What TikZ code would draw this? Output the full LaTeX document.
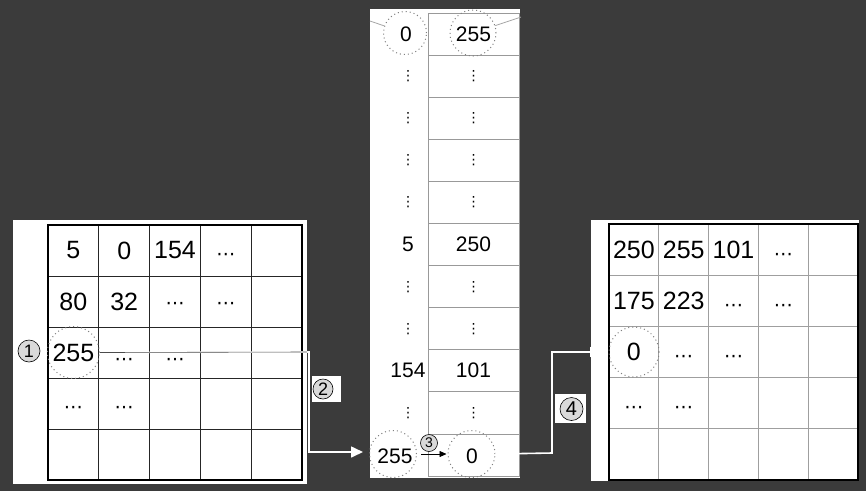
\documentclass[tikz,border=0pt]{standalone}
\usepackage{fontspec}
\setmainfont{Liberation Sans}
\newfontfamily\dvfont{DejaVu Sans}
\usetikzlibrary{arrows.meta}
\definecolor{bg}{RGB}{59,59,59}
\definecolor{numfill}{RGB}{217,217,217}
\tikzset{
 big/.style={font=\fontsize{25}{25}\selectfont, inner sep=0pt},
 mid/.style={font=\fontsize{21}{21}\selectfont, inner sep=0pt},
 hd/.style={font=\dvfont\fontsize{19}{19}\selectfont, inner sep=0pt, yshift=-5pt},
 vd/.style={font=\dvfont\fontsize{14}{14}\selectfont, inner sep=0pt},
 dcirc/.style={circle, draw=gray, line width=1pt, dash pattern=on 1pt off 3pt, inner sep=0pt},
 numc/.style={circle, draw=black, fill=numfill, line width=0.6pt, minimum size=20pt, inner sep=0pt, font=\fontsize{18}{18}\selectfont},
 conn/.style={draw=white, line width=1.6pt},
 ginl/.style={draw=black!85, line width=0.9pt},
 ginr/.style={draw=gray!75, line width=1.2pt},
 gout/.style={draw=black, line width=1.2pt},
 gmid/.style={draw=gray!80, line width=0.9pt},
 labbox/.style={fill=white, inner sep=0pt},
}
\begin{document}
\begin{tikzpicture}[x=1pt,y=-1pt]
\fill[bg] (0,0) rectangle (866,491);
\useasboundingbox (0,0) rectangle (866,491);
% panels
\fill[white] (13,220) rectangle (307,484);
\fill[white] (370,9) rectangle (520,478);
\fill[white] (591,220) rectangle (859,481);
% left grid
\foreach \i in {1,...,4} {
  \draw[ginl] ({48+50.8*\i},225) -- ({48+50.8*\i},480);
  \draw[ginl] (48,{225+51*\i}) -- (302,{225+51*\i});
}
\draw[gout] (48,225) rectangle (302,480);
% right grid
\foreach \i in {1,...,4} {
  \draw[ginr] ({609+49.8*\i},224) -- ({609+49.8*\i},480);
  \draw[ginr] (609,{224+51.2*\i}) -- (858,{224+51.2*\i});
}
\draw[gout] (609,224) rectangle (858,480);
% middle table
\foreach \i in {1,...,10} {
  \draw[gmid] (428,{13+42.1*\i}) -- (519,{13+42.1*\i});
}
\draw[gmid] (428,13) rectangle (519,476);

% left values
\node[big] (l11) at (73.4,250.5) {5};
\node[big] (l12) at (124.2,250.5) {0};
\node[big] (l13) at (175,250.5) {154};
\node[hd] (l14) at (225.8,252) {⋯};
\node[big] (l21) at (73.4,301.5) {80};
\node[big] (l22) at (124.2,301.5) {32};
\node[hd] (l23) at (175,301) {⋯};
\node[hd] (l24) at (225.8,301) {⋯};
\node[big] (l31) at (73.4,352.5) {255};
\node[hd] (l32) at (124.2,357) {⋯};
\node[hd] (l33) at (175,357) {⋯};
\node[hd] (l41) at (73.4,405) {⋯};
\node[hd] (l42) at (124.2,405) {⋯};

% right values
\node[big] (r11) at (633.9,249.6) {250};
\node[big] (r12) at (683.7,249.6) {255};
\node[big] (r13) at (733.5,249.6) {101};
\node[hd] (r14) at (783.3,252) {⋯};
\node[big] (r21) at (633.9,300.8) {175};
\node[big] (r22) at (683.7,300.8) {223};
\node[hd] (r23) at (733.5,303) {⋯};
\node[hd] (r24) at (783.3,303) {⋯};
\node[big] (r31) at (633.9,352) {0};
\node[hd] (r32) at (683.7,354) {⋯};
\node[hd] (r33) at (733.5,354) {⋯};
\node[hd] (r41) at (633.9,405) {⋯};
\node[hd] (r42) at (683.7,405) {⋯};

% middle values
\node[mid] (m0a) at (406,34) {0};
\node[mid] (m0b) at (473.5,34) {255};
\foreach \k in {1,2,3,4,6,7,9} {
  \node[vd] (ma\k) at (408,{13+42.1*(\k+0.5)}) {⋮};
  \node[vd] (mb\k) at (473.5,{13+42.1*(\k+0.5)}) {⋮};
}
\node[mid] (m5a) at (408,244) {5};
\node[mid] (m5b) at (473.5,244) {250};
\node[mid] (m8a) at (408,370) {154};
\node[mid] (m8b) at (473.5,370) {101};
\node[mid] (m10a) at (395,456) {255};
\node[mid] (m10b) at (472,456) {0};

% dotted circles
\node[dcirc, minimum size=52pt] (lc) at (73.4,352.5) {};
\node[dcirc, minimum size=50pt] (rc) at (634,352) {};
\node[dcirc, minimum size=43pt] (mt0) at (405,33) {};
\node[dcirc, minimum size=46pt] (mt1) at (473,33) {};
\node[dcirc, minimum size=47pt] (mbl) at (393,454) {};
\node[dcirc, minimum size=47pt] (mbr) at (471.5,454) {};
\coordinate (tl) at (370,21);
\coordinate (tr) at (521,17);
\draw[gray!70, line width=0.8pt] (mt0) -- (tl);
\draw[gray!70, line width=0.8pt] (mt1) -- (tr);

% step 3 arrow
\draw[line width=0.6pt, -{Triangle[length=7pt,width=6pt]}, shorten <=4pt, shorten >=1pt] (mbl.east) -- (mbr.west);
\node[numc, minimum size=17pt, font=\fontsize{14}{14}\selectfont] (n3) at (429,443) {3};

% connector 2
\coordinate (k1) at (309,352);
\coordinate (k2) at (309,452);
\coordinate (a2) at (363,452);
\coordinate (pe) at (307,352);
\draw[conn, -{Triangle[length=12pt,width=11pt]}] (lc.east) -- (k1) -- (k2) -- (a2);
\draw[gray!60!black, line width=0.6pt] (lc.east) -- (pe);
\node[labbox, minimum width=29pt, minimum height=26pt] (b2) at (326,389) {};
\node[numc] (n2) at (323,389) {2};

% connector 4
\coordinate (k3) at (552,453);
\coordinate (k4) at (552,352);
\coordinate (a4) at (600,352);
\draw[conn, -{Triangle[length=10pt,width=10pt]}] (mbr.east) -- (k3) -- (k4) -- (a4);
\node[labbox, minimum width=31pt, minimum height=29pt] (b4) at (570.5,408.5) {};
\node[numc, minimum size=23pt, font=\fontsize{20}{20}\selectfont] (n4) at (571.5,409) {4};

% step 1
\node[numc, minimum size=22pt] (n1) at (29,351) {1};
\end{tikzpicture}
\end{document}
